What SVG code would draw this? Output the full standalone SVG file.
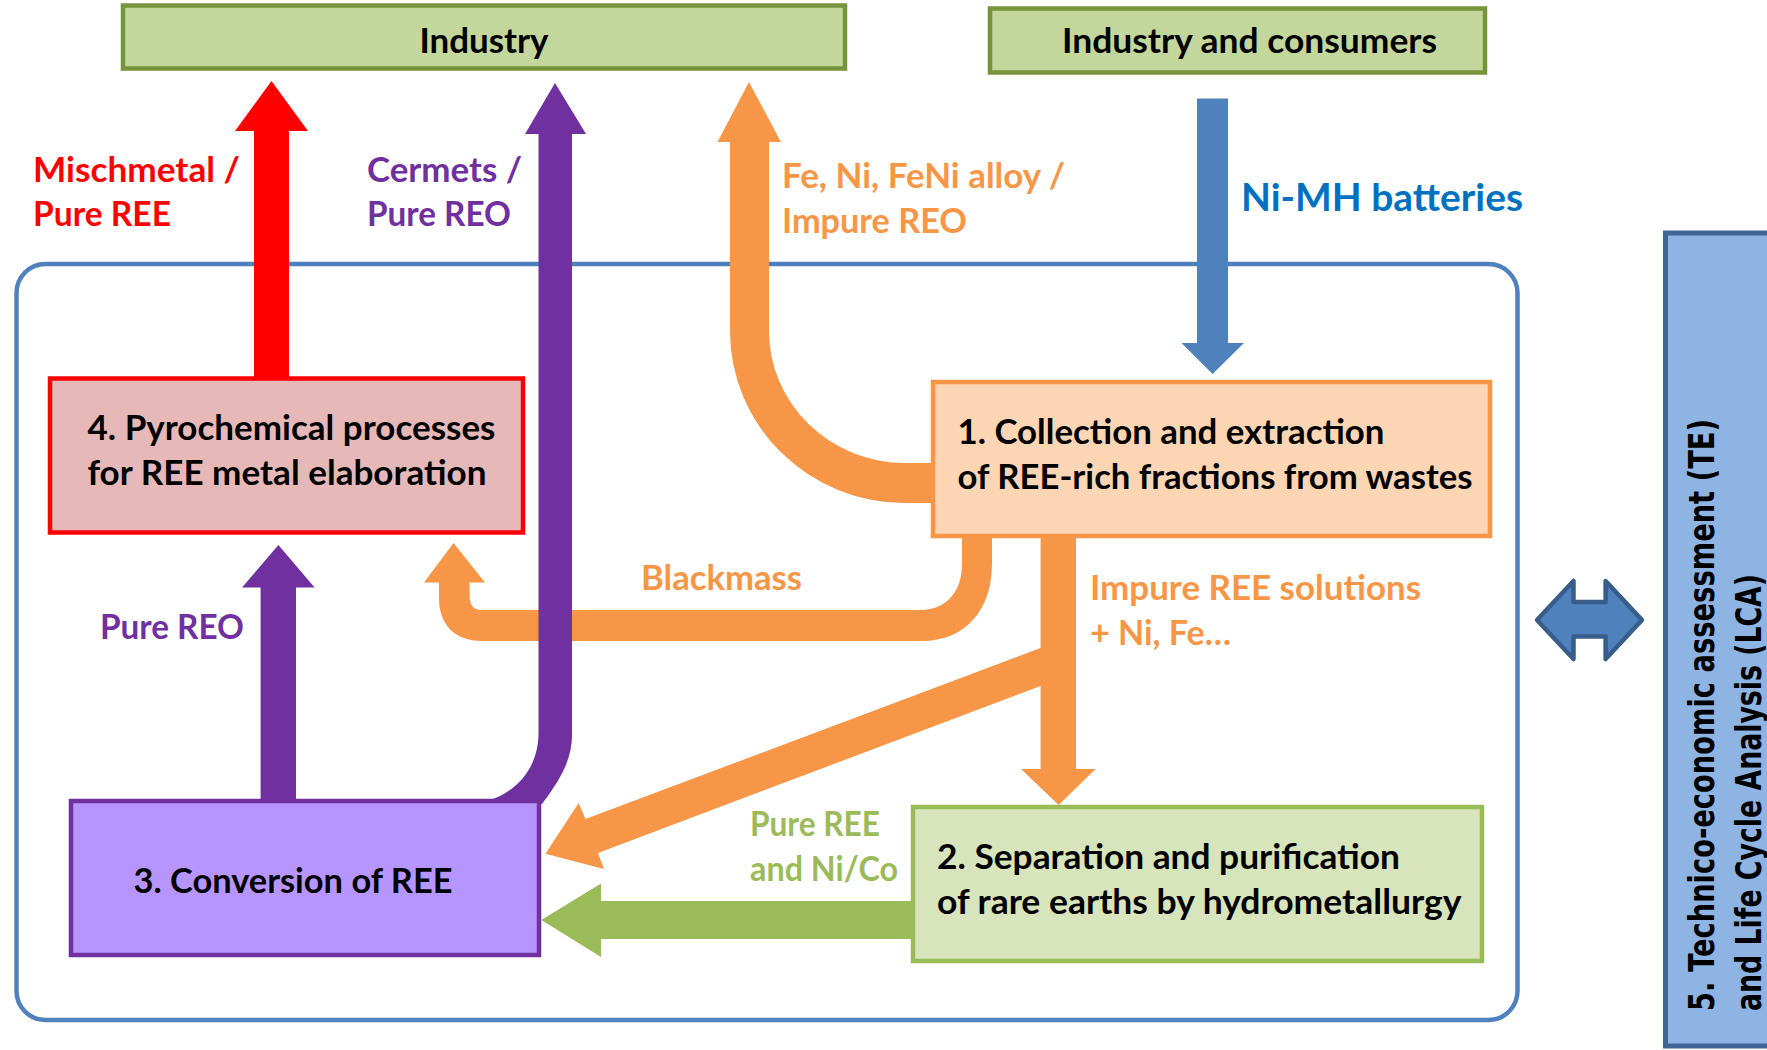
<svg xmlns="http://www.w3.org/2000/svg" width="1767" height="1050" viewBox="0 0 1767 1050">
<style>
text{font-family:"Lato","Open Sans","Liberation Sans",sans-serif;font-weight:700;font-size:34px;fill:#000}
.or{fill:#f79646}.pu{fill:#7030a0}.re{fill:#ff0000}.gr{fill:#9bbb59}
.bl{fill:#0070c0;font-size:38px}
.tx5{font-family:"DejaVu Sans",sans-serif;font-size:36px}
.bx{stroke-width:4.5}
</style>
<rect width="1767" height="1050" fill="#fff"/>
<g id="frame"><rect x="16.500" y="264" width="1501" height="756" rx="29" ry="29" fill="#fff" stroke="#4f81bd" stroke-width="4.5"/></g>
<g id="connectors">
<path id="c-mischmetal" class="re" d="M271.500 81L308 131H289V380H254V131H235Z"/>
<path id="c-blackmass" class="or" d="M453.500 543L485 582.500H469.600V596C469.600 605 474 610 481 610H920C948 610 962 590 962 564V534H992V564C992 610 965 641 922 641H482C455 641 439 625 439 598V582.500H424Z"/>
<path id="c-cermets" class="pu" d="M555 83L586 134H572V735C572 760 560 780 542 804L490 800C520 790 538.500 765 538.500 733V134H525Z"/>
<path id="c-alloy" class="or" d="M749 82L781 142H769V331A136 132 0 0 0 905 463H936V503H905A175 172 0 0 1 730 331V142H717.500Z"/>
<path id="c-nimh" fill="#4f81bd" d="M1197 98.500H1228V343H1244L1212.600 374L1181.500 343H1197Z"/>
<path id="c-pureree" class="pu" d="M278.400 545L314.600 587.600H296V802H260.600V587.600H242Z"/>
<path id="c-impure" class="or" d="M1040.600 534H1076V769H1095.500L1058.700 805L1021 769H1040.600V686L598 853L604 869L545.400 853.700L578.700 803L585.500 819L1040.600 648Z"/>
<path id="c-green" class="gr" d="M541.300 920L601 883.400V901H916V939H601V957Z"/>
<path id="c-double" fill="#4f81bd" stroke="#385d8a" stroke-width="4.5" stroke-linejoin="round" d="M1537 620L1573.500 581V602H1605.600V581L1642 620L1605.600 659V636.600H1573.500V659Z"/>
</g>
<g id="industry"><rect class="bx" x="123" y="5.500" width="722" height="63" fill="#c3d69b" stroke="#77933c"/><text x="419.500" y="52.500" textLength="129" lengthAdjust="spacingAndGlyphs">Industry</text></g>
<g id="consumers"><rect class="bx" x="990" y="8.500" width="495" height="64" fill="#c3d69b" stroke="#77933c"/><text x="1062" y="52.500" textLength="375" lengthAdjust="spacingAndGlyphs">Industry and consumers</text></g>
<g id="node4"><rect class="bx" x="50" y="378.500" width="473" height="154" fill="#e6b9b8" stroke="#ff0000"/><text x="87.500" y="439.500" textLength="408" lengthAdjust="spacingAndGlyphs">4. Pyrochemical processes</text><text x="87.500" y="484.500" textLength="399" lengthAdjust="spacingAndGlyphs">for REE metal elaboration</text></g>
<g id="node1"><rect class="bx" x="933" y="382" width="557" height="154" fill="#fcd5b5" stroke="#f79646"/><text x="957.500" y="444" textLength="427" lengthAdjust="spacingAndGlyphs">1. Collection and extraction</text><text x="957.500" y="489" textLength="515" lengthAdjust="spacingAndGlyphs">of REE-rich fractions from wastes</text></g>
<g id="node3"><rect class="bx" x="71" y="801" width="468" height="154" fill="#b795ff" stroke="#7030a0"/><text x="133.500" y="893" textLength="319" lengthAdjust="spacingAndGlyphs">3. Conversion of REE</text></g>
<g id="node2"><rect class="bx" x="913" y="807" width="569" height="154" fill="#d8e4bc" stroke="#9bbb59"/><text x="937" y="868.500" textLength="463" lengthAdjust="spacingAndGlyphs">2. Separation and purification</text><text x="937" y="914" textLength="524.500" lengthAdjust="spacingAndGlyphs">of rare earths by hydrometallurgy</text></g>
<g id="node5"><rect x="1665.500" y="233" width="120" height="813" fill="#8eb4e3" stroke="#3f6495" stroke-width="5"/>
<text class="tx5" transform="translate(1714 1011) rotate(-90)" textLength="592" lengthAdjust="spacingAndGlyphs">5. Technico-economic assessment (TE)</text>
<text class="tx5" transform="translate(1761 1011) rotate(-90)" textLength="437" lengthAdjust="spacingAndGlyphs">and Life Cycle Analysis (LCA)</text></g>
<g id="labels">
<text class="re" x="33" y="181.500" textLength="207" lengthAdjust="spacingAndGlyphs">Mischmetal /</text>
<text class="re" x="33" y="226" textLength="138" lengthAdjust="spacingAndGlyphs">Pure REE</text>
<text class="pu" x="367" y="181.500" textLength="155" lengthAdjust="spacingAndGlyphs">Cermets /</text>
<text class="pu" x="367" y="226" textLength="144" lengthAdjust="spacingAndGlyphs">Pure REO</text>
<text class="or" x="782" y="187.500" textLength="283" lengthAdjust="spacingAndGlyphs">Fe, Ni, FeNi alloy /</text>
<text class="or" x="782" y="233" textLength="185" lengthAdjust="spacingAndGlyphs">Impure REO</text>
<text class="bl" x="1241" y="211" textLength="282" lengthAdjust="spacingAndGlyphs">Ni-MH batteries</text>
<text class="or" x="641" y="590" textLength="161" lengthAdjust="spacingAndGlyphs">Blackmass</text>
<text class="pu" x="100" y="639" textLength="144" lengthAdjust="spacingAndGlyphs">Pure REO</text>
<text class="or" x="1090" y="600" textLength="331" lengthAdjust="spacingAndGlyphs">Impure REE solutions</text>
<text class="or" x="1090" y="645" textLength="141" lengthAdjust="spacingAndGlyphs">+ Ni, Fe…</text>
<text class="gr" x="750" y="836" textLength="130" lengthAdjust="spacingAndGlyphs">Pure REE</text>
<text class="gr" x="750" y="881" textLength="148" lengthAdjust="spacingAndGlyphs">and Ni/Co</text>
</g>
</svg>
